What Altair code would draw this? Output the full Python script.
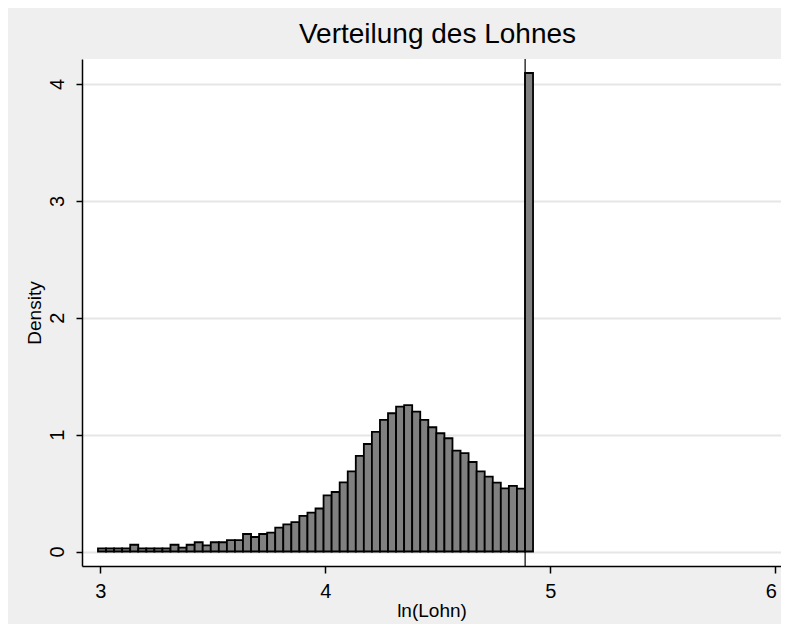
import altair as alt
import pandas as pd

# Histogram of ln(Lohn): 54 bins starting at 2.99, width 0.0358
bin_start = 2.99
bin_width = 0.0358
density = [
    0.027, 0.027, 0.027, 0.027, 0.058, 0.027, 0.027, 0.027, 0.027, 0.058,
    0.033, 0.058, 0.079, 0.052, 0.079, 0.079, 0.098, 0.098, 0.150, 0.124,
    0.150, 0.161, 0.204, 0.233, 0.252, 0.305, 0.333, 0.368, 0.481, 0.509,
    0.592, 0.686, 0.818, 0.920, 1.023, 1.126, 1.183, 1.240, 1.252, 1.197,
    1.126, 1.063, 1.012, 0.969, 0.863, 0.841, 0.766, 0.686, 0.640, 0.589,
    0.541, 0.561, 0.538, 4.094,
]
ref_line = [4.888]
x_ticks = [3, 4, 5, 6]
y_ticks = [0, 1, 2, 3, 4]

lo = [bin_start + i * bin_width for i in range(len(density))]
hi = [v + bin_width for v in lo]
df = pd.DataFrame({"lo": lo, "hi": hi, "d": density, "base": [0.0] * len(density)})
ref = pd.DataFrame({"x": ref_line})

FONT = "Liberation Sans"
xscale = alt.Scale(domain=[2.919, 6.025], nice=False, zero=False)
yscale = alt.Scale(domain=[-0.124, 4.214], nice=False, zero=False)

xaxis = alt.Axis(
    values=x_ticks, title="ln(Lohn)", grid=False, format="d",
    domainColor="black", domainWidth=1.5, tickColor="black", tickWidth=1.5,
    tickSize=7, labelFont=FONT, labelFontSize=20, labelColor="black",
    labelPadding=8, labelFlush=10, labelFlushOffset=1, labelBound=False,
    titleFont=FONT, titleFontSize=19, titleFontWeight="normal",
    titleColor="black", titlePadding=0,
)
yaxis = alt.Axis(
    values=y_ticks, title="Density", grid=True, gridColor="#e6e6e6", gridWidth=2,
    format="d", domainColor="black", domainWidth=1.5, tickColor="black",
    tickWidth=1.5, tickSize=6, labelFont=FONT, labelFontSize=20,
    labelColor="black", labelAngle=270, labelAlign="center",
    labelBaseline="alphabetic", labelPadding=13, titleFont=FONT,
    titleFontSize=19, titleFontWeight="normal", titleColor="black",
    titleAngle=270, titleBaseline="alphabetic", titleX=-42,
)

bars = alt.Chart(df).mark_rect(
    fill="#808080", stroke="black", strokeWidth=1.8
).encode(
    x=alt.X("lo:Q", scale=xscale, axis=xaxis),
    x2="hi:Q",
    y=alt.Y("base:Q", scale=yscale, axis=yaxis),
    y2="d:Q",
)

rule = alt.Chart(ref).mark_rule(color="black", strokeWidth=1.2).encode(
    x=alt.X("x:Q", scale=xscale)
)

chart = alt.layer(bars, rule).properties(
    width=699,
    height=507,
    title=alt.TitleParams(
        "Verteilung des Lohnes", font=FONT, fontSize=28, fontWeight="normal",
        color="black", anchor="middle", offset=9, dx=6,
    ),
    background="#efefef",
    padding={"left": 74, "top": 51, "right": 0, "bottom": 58},
    autosize=alt.AutoSizeParams(type="none"),
).configure_view(fill="white", stroke=None)

chart.save("out.html", embed_options={"renderer": "svg", "actions": False})
